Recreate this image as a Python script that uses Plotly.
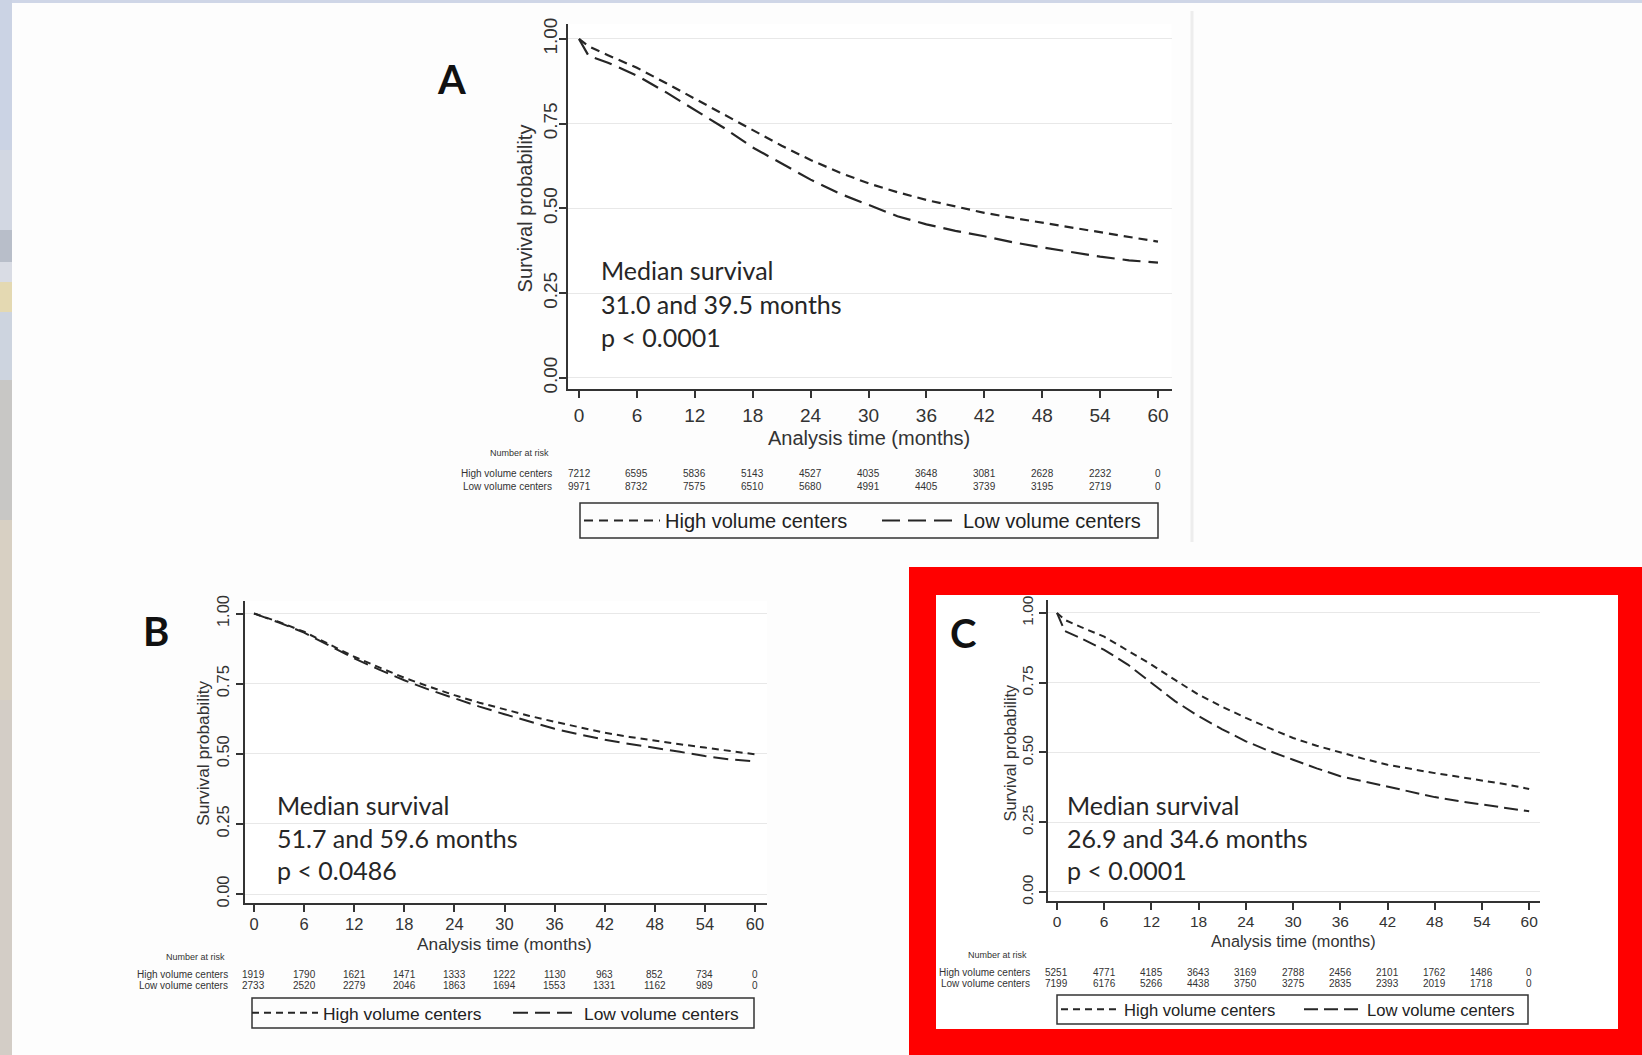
import plotly.graph_objects as go

# ---------------- data ----------------
months = [0, 1, 3, 6, 9, 12, 15, 18, 21, 24, 27, 30, 33, 36, 39, 42, 45, 48, 51, 54, 57, 60]

a_high = [1.0, 0.978, 0.952, 0.915, 0.870, 0.824, 0.777, 0.730, 0.685, 0.643, 0.606, 0.574,
          0.548, 0.525, 0.505, 0.487, 0.472, 0.458, 0.444, 0.431, 0.418, 0.402]
a_low = [1.0, 0.950, 0.930, 0.892, 0.843, 0.791, 0.738, 0.680, 0.632, 0.585, 0.544, 0.510,
         0.477, 0.453, 0.434, 0.418, 0.400, 0.385, 0.371, 0.358, 0.347, 0.340]

b_high = [1.0, 0.990, 0.970, 0.935, 0.890, 0.846, 0.808, 0.771, 0.739, 0.709, 0.682, 0.658,
          0.635, 0.614, 0.594, 0.575, 0.560, 0.546, 0.534, 0.522, 0.510, 0.498]
b_low = [1.0, 0.990, 0.968, 0.932, 0.886, 0.840, 0.800, 0.762, 0.728, 0.697, 0.668, 0.641,
         0.614, 0.589, 0.569, 0.550, 0.535, 0.522, 0.507, 0.492, 0.480, 0.473]

c_high = [1.0, 0.975, 0.950, 0.915, 0.865, 0.815, 0.760, 0.707, 0.664, 0.624, 0.587, 0.552,
          0.524, 0.500, 0.477, 0.456, 0.440, 0.426, 0.413, 0.400, 0.386, 0.369]
c_low = [1.0, 0.935, 0.910, 0.868, 0.815, 0.749, 0.684, 0.630, 0.583, 0.540, 0.505, 0.474,
         0.443, 0.415, 0.396, 0.379, 0.358, 0.340, 0.326, 0.313, 0.300, 0.289]

risk_times = [0, 6, 12, 18, 24, 30, 36, 42, 48, 54, 60]
a_risk_high = [7212, 6595, 5836, 5143, 4527, 4035, 3648, 3081, 2628, 2232, 0]
a_risk_low = [9971, 8732, 7575, 6510, 5680, 4991, 4405, 3739, 3195, 2719, 0]
b_risk_high = [1919, 1790, 1621, 1471, 1333, 1222, 1130, 963, 852, 734, 0]
b_risk_low = [2733, 2520, 2279, 2046, 1863, 1694, 1553, 1331, 1162, 989, 0]
c_risk_high = [5251, 4771, 4185, 3643, 3169, 2788, 2456, 2101, 1762, 1486, 0]
c_risk_low = [7199, 6176, 5266, 4438, 3750, 3275, 2835, 2393, 2019, 1718, 0]

group_names = ["High volume centers", "Low volume centers"]
panel_letters = ["A", "B", "C"]
median_text = [
    ["Median survival", "31.0 and 39.5 months", "p < 0.0001"],
    ["Median survival", "51.7 and 59.6 months", "p < 0.0486"],
    ["Median survival", "26.9 and 34.6 months", "p < 0.0001"],
]
x_ticks = [0, 6, 12, 18, 24, 30, 36, 42, 48, 54, 60]
y_ticks = [0.0, 0.25, 0.50, 0.75, 1.00]
x_title = "Analysis time (months)"
y_title = "Survival probability"
risk_title = "Number at risk"

# ---------------- layout helpers ----------------
W, H = 1642, 1055


def px(x):
    return x / W


def py(y):
    return 1 - y / H


SANS = "Liberation Sans, Arial, sans-serif"
NARROW = "Liberation Sans Narrow, Liberation Sans, Arial, sans-serif"
CAL = "Lato, Open Sans, sans-serif"
INK = "#262626"

panels = [
    dict(series=(a_high, a_low), risk=(a_risk_high, a_risk_low),
         xdom=(568.4, 1171.5), ydom=(388.8, 23.7), tick=19, title=20, leg=20, lw=2.2,
         dash=("9px,6px", "18px,8px"), box=(580, 503, 1158, 538), legx=579, iw=76, entry=207,
         xstand=1, ystand=-5, xt_y=438, yt_x=525,
         nar_y=453, rows_y=(473, 486), lab_x=554, letter=(451, 79),
         txt_x=599, txt_y=(270, 304, 337)),
    dict(series=(b_high, b_low), risk=(b_risk_high, b_risk_low),
         xdom=(244.8, 766.7), ydom=(903.0, 600.9), tick=16.5, title=17.3, leg=17.4, lw=2.0,
         dash=("7px,5px", "15px,7px"), box=(252, 998, 754, 1028), legx=247, iw=66, entry=180,
         xstand=-2, ystand=0, xt_y=944, yt_x=203,
         nar_y=957, rows_y=(974, 985), lab_x=230, letter=(156, 631),
         txt_x=275, txt_y=(805, 838, 870)),
    dict(series=(c_high, c_low), risk=(c_risk_high, c_risk_low),
         xdom=(1048.3, 1540.2), ydom=(900.9, 600.4), tick=15.5, title=16.3, leg=16.6, lw=2.0,
         dash=("7px,5px", "14px,6px"), box=(1057, 995, 1528, 1024), legx=1056, iw=58, entry=170,
         xstand=-2, ystand=0, xt_y=941, yt_x=1010,
         nar_y=955, rows_y=(972, 983), lab_x=1032, letter=(963, 633),
         txt_x=1065, txt_y=(805, 838, 870)),
]

fig = go.Figure()
shapes = []
annotations = []

# slide background pieces
shapes.append(dict(type="rect", xref="paper", yref="paper", x0=0, x1=1, y0=py(3), y1=1,
                   fillcolor="#cfd6e7", line_width=0, layer="below"))
strip = [(0, 150, "#cbd3e4"), (150, 230, "#d2d7e2"), (230, 262, "#b8bec9"),
         (262, 282, "#d9dce4"), (282, 312, "#e4d9b2"), (312, 380, "#cdd4df"),
         (380, 520, "#c8c7c5"), (520, 700, "#d8d0c3"), (700, 1055, "#d3cdc6")]
for y0, y1, col in strip:
    shapes.append(dict(type="rect", xref="paper", yref="paper", x0=0, x1=px(12),
                       y0=py(y1), y1=py(y0), fillcolor=col, line_width=0, layer="below"))
shapes.append(dict(type="line", xref="paper", yref="paper", x0=px(1192), x1=px(1192),
                   y0=py(542), y1=py(11), line=dict(color="#ededed", width=3), layer="below"))
# red highlight frame around panel C
shapes.append(dict(type="rect", xref="paper", yref="paper", x0=px(909), x1=1, y0=0, y1=py(567),
                   fillcolor="#ff0000", line_width=0, layer="below"))
shapes.append(dict(type="rect", xref="paper", yref="paper", x0=px(936), x1=px(1618),
                   y0=py(1029), y1=py(595), fillcolor="#ffffff", line_width=0, layer="below"))

layout_axes = {}
for i, p in enumerate(panels):
    n = "" if i == 0 else str(i + 1)
    xa, ya = "x" + n, "y" + n
    legname = "legend" + n
    hi, lo = p["series"]
    for k, (vals, dash) in enumerate(zip((hi, lo), p["dash"])):
        fig.add_trace(go.Scatter(
            x=months, y=vals, mode="lines", name=group_names[k],
            line=dict(color=INK, width=p["lw"], dash=dash),
            xaxis=xa, yaxis=ya, legend=legname, showlegend=True, hoverinfo="skip"))

    layout_axes["xaxis" + n] = dict(
        domain=[px(p["xdom"][0]), px(p["xdom"][1])], range=[-1.1, 61.4], anchor=ya,
        tickvals=x_ticks, ticks="outside", ticklen=7, tickwidth=1.5, tickcolor="#333",
        showline=True, linecolor="#333", linewidth=2, showgrid=False, zeroline=False,
        ticklabelstandoff=p["xstand"],
        tickfont=dict(family=SANS, size=p["tick"], color="#333"),
        fixedrange=True)
    layout_axes["yaxis" + n] = dict(
        domain=[py(p["ydom"][0]), py(p["ydom"][1])], range=[-0.032, 1.045], anchor=xa,
        tickvals=y_ticks, tickformat=".2f", tickangle=-90, ticks="outside", ticklen=7,
        tickwidth=1.5, tickcolor="#333", showline=True, linecolor="#333", linewidth=2,
        showgrid=True, gridcolor="#e8e8e8", gridwidth=1, zeroline=False,
        ticklabelstandoff=p["ystand"],
        tickfont=dict(family=SANS, size=p["tick"], color="#333"),
        fixedrange=True)

    # axis titles
    annotations.append(dict(text=x_title, xref=xa, yref="paper", x=30, y=py(p["xt_y"]),
                            xanchor="center", yanchor="middle", showarrow=False,
                            font=dict(family=SANS, size=p["title"], color="#333")))
    annotations.append(dict(text=y_title, xref="paper", yref=ya, x=px(p["yt_x"]), y=0.5,
                            xanchor="center", yanchor="middle", showarrow=False, textangle=-90,
                            font=dict(family=SANS, size=p["title"], color="#333")))

    # legend (native) with drawn border box
    bx0, by0, bx1, by1 = p["box"]
    layout_axes[legname] = dict(
        orientation="h", x=px(p["legx"]), xanchor="left", y=py((by0 + by1) / 2), yanchor="middle",
        bgcolor="rgba(0,0,0,0)", borderwidth=0, itemwidth=p["iw"], entrywidth=p["entry"],
        font=dict(family=SANS, size=p["leg"], color="#222"), traceorder="normal",
        itemclick=False, itemdoubleclick=False)
    shapes.append(dict(type="rect", xref="paper", yref="paper", x0=px(bx0), x1=px(bx1),
                       y0=py(by1), y1=py(by0), line=dict(color="#333", width=1.5),
                       fillcolor="rgba(0,0,0,0)", layer="above"))

    # number at risk table
    annotations.append(dict(text=risk_title, xref="paper", yref="paper", x=px(p["lab_x"] - 3),
                            y=py(p["nar_y"]), xanchor="right", yanchor="middle", showarrow=False,
                            font=dict(family=NARROW, size=9, color="#333")))
    for r, counts in enumerate(p["risk"]):
        annotations.append(dict(text=group_names[r], xref="paper", yref="paper", x=px(p["lab_x"]),
                                y=py(p["rows_y"][r]), xanchor="right", yanchor="middle",
                                showarrow=False, font=dict(family=NARROW, size=10, color="#333")))
        for t, c in zip(risk_times, counts):
            annotations.append(dict(text=str(c), xref=xa, yref="paper", x=t, y=py(p["rows_y"][r]),
                                    xanchor="center", yanchor="middle", showarrow=False,
                                    font=dict(family=NARROW, size=10, color="#333")))

    # panel letter
    annotations.append(dict(text="<b>%s</b>" % panel_letters[i], xref="paper", yref="paper",
                            x=px(p["letter"][0]), y=py(p["letter"][1]), xanchor="center",
                            yanchor="middle", showarrow=False,
                            font=dict(family=CAL, size=40, color="#111")))
    # median survival text
    for line, yy in zip(median_text[i], p["txt_y"]):
        annotations.append(dict(text=line, xref="paper", yref="paper", x=px(p["txt_x"]), y=py(yy),
                                xanchor="left", yanchor="middle", showarrow=False,
                                font=dict(family=CAL, size=25, color="#262626")))

fig.update_layout(
    width=W, height=H, margin=dict(l=0, r=0, t=0, b=0, autoexpand=False),
    paper_bgcolor="#fdfdfd", plot_bgcolor="#ffffff",
    shapes=shapes, annotations=annotations, hovermode=False,
    **layout_axes)

fig.write_html("out.html", config={"displayModeBar": False},
               post_script="document.body.style.margin='0px';document.body.style.overflow='hidden';")
